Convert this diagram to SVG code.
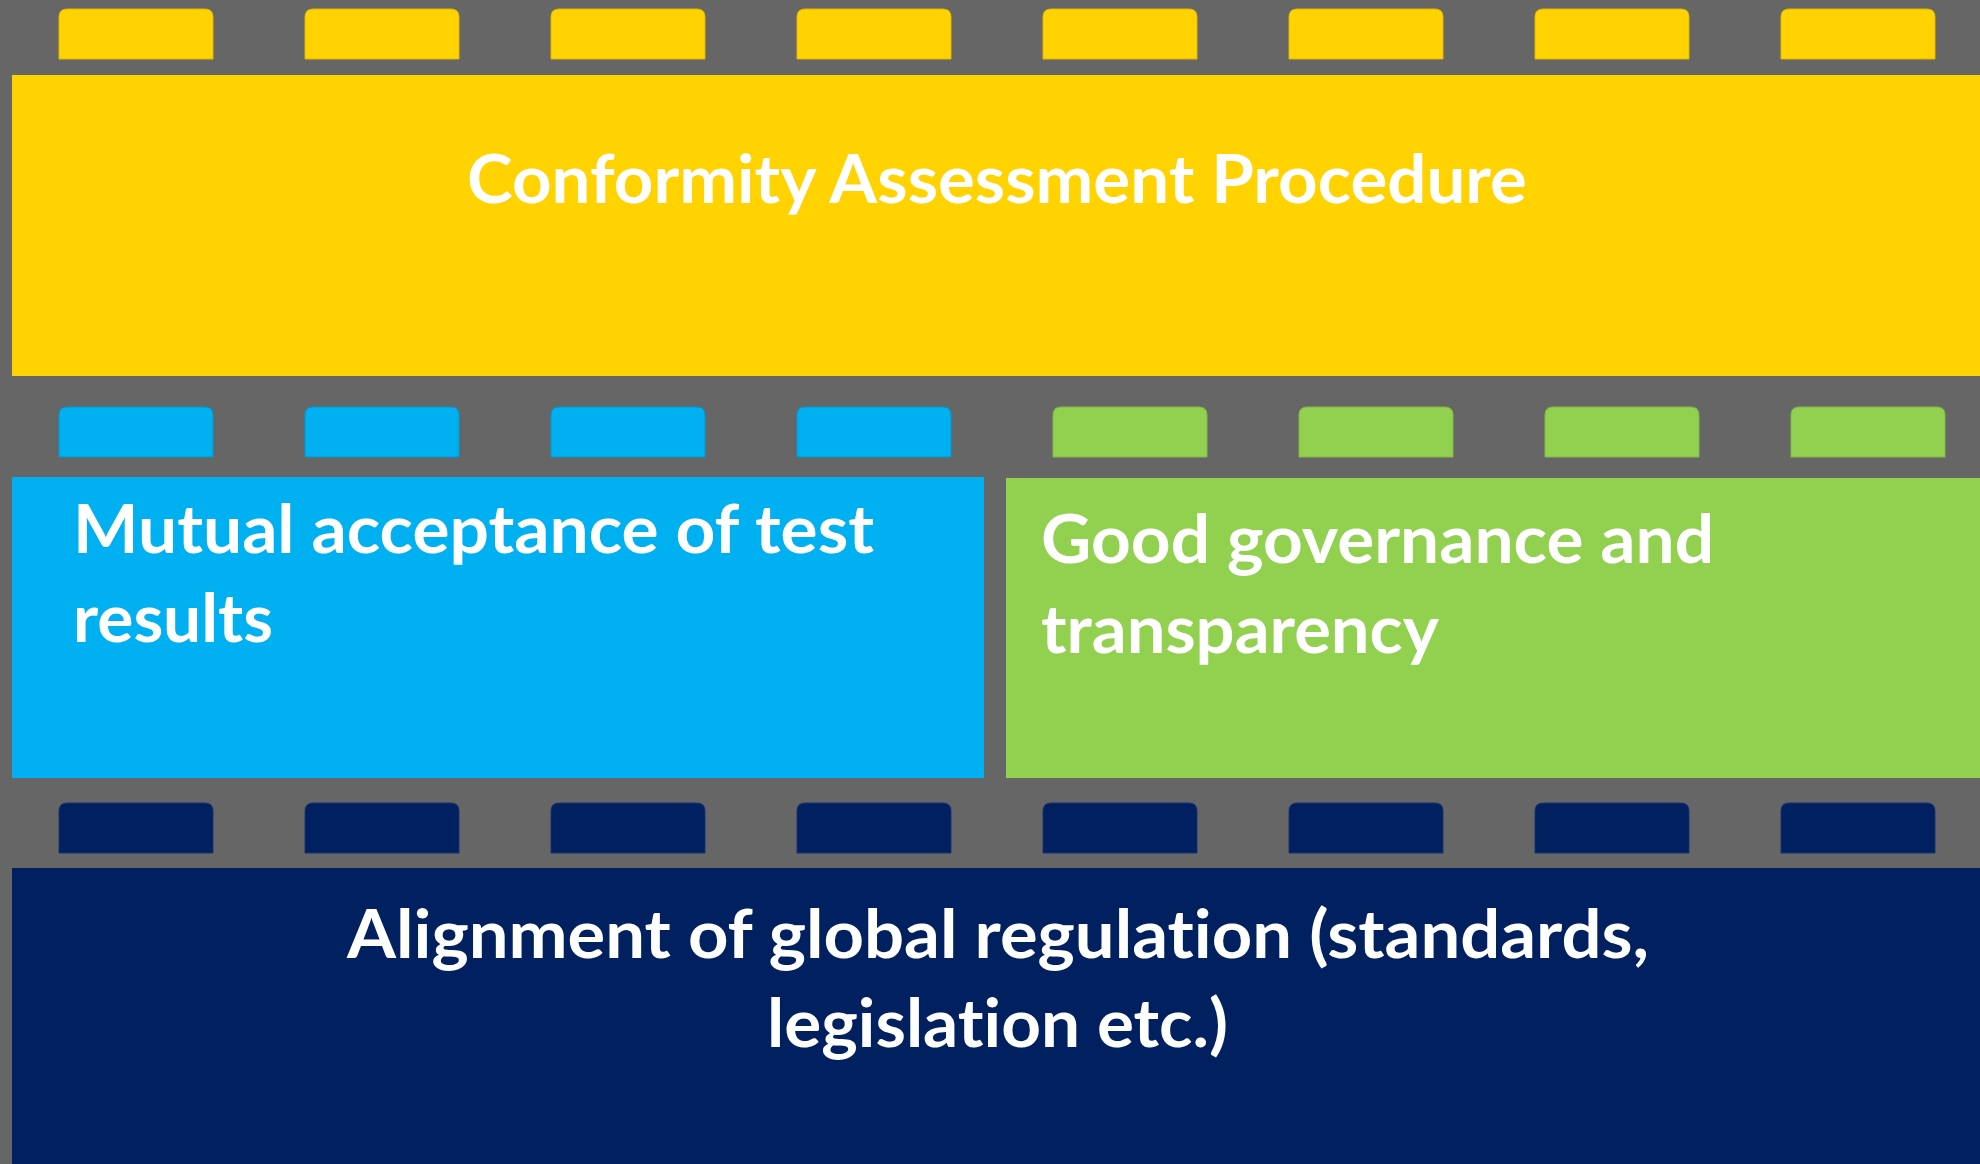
<svg xmlns="http://www.w3.org/2000/svg" width="1980" height="1164" viewBox="0 0 1980 1164">
  <style>
    .lbl { font-family: Lato, "Open Sans", "Liberation Sans", sans-serif; font-weight: 700; font-size: 66px; fill: #ffffff; font-variant-ligatures: none; font-feature-settings: "liga" 0, "clig" 0, "dlig" 0; }
    .yellow { fill: #FFD200; }
    .blue { fill: #00B0F0; }
    .green { fill: #92D050; }
    .navy { fill: #002060; }
    .tab-y { fill: #FFD200; stroke: #E0B800; stroke-width: 1; }
    .tab-b { fill: #00B0F0; stroke: #0098D0; stroke-width: 1; }
    .tab-g { fill: #92D050; stroke: #80B845; stroke-width: 1; }
    .tab-n { fill: #002060; stroke: #1A3370; stroke-width: 1; }
  </style>
  <defs>
    <path id="tab" d="M0,50 V8 Q0,0 8,0 H146 Q154,0 154,8 V50 Z"/>
  </defs>
  <rect x="0" y="0" width="1980" height="1164" fill="#666666"/>

  <g id="node-conformity">
    <g class="tab-y">
      <use href="#tab" x="59" y="9"/>
      <use href="#tab" x="305" y="9"/>
      <use href="#tab" x="551" y="9"/>
      <use href="#tab" x="797" y="9"/>
      <use href="#tab" x="1043" y="9"/>
      <use href="#tab" x="1289" y="9"/>
      <use href="#tab" x="1535" y="9"/>
      <use href="#tab" x="1781" y="9"/>
    </g>
    <rect class="yellow" x="12" y="75" width="1968" height="301"/>
    <text class="lbl" x="467" y="203" textLength="1060" lengthAdjust="spacingAndGlyphs">Conformity Assessment Procedure</text>
  </g>

  <g id="node-mutual">
    <g class="tab-b">
      <use href="#tab" x="59" y="407"/>
      <use href="#tab" x="305" y="407"/>
      <use href="#tab" x="551" y="407"/>
      <use href="#tab" x="797" y="407"/>
    </g>
    <rect class="blue" x="12" y="477" width="972" height="301"/>
    <text class="lbl" x="73" y="553" textLength="801" lengthAdjust="spacingAndGlyphs">Mutual acceptance of test</text>
    <text class="lbl" x="73" y="642" textLength="200" lengthAdjust="spacingAndGlyphs">results</text>
  </g>

  <g id="node-governance">
    <g class="tab-g">
      <use href="#tab" x="1053" y="407"/>
      <use href="#tab" x="1299" y="407"/>
      <use href="#tab" x="1545" y="407"/>
      <use href="#tab" x="1791" y="407"/>
    </g>
    <rect class="green" x="1006" y="478" width="974" height="300"/>
    <text class="lbl" x="1041" y="563" textLength="673" lengthAdjust="spacingAndGlyphs">Good governance and</text>
    <text class="lbl" x="1041" y="653" textLength="398" lengthAdjust="spacingAndGlyphs">transparency</text>
  </g>

  <g id="node-alignment">
    <g class="tab-n">
      <use href="#tab" x="59" y="803"/>
      <use href="#tab" x="305" y="803"/>
      <use href="#tab" x="551" y="803"/>
      <use href="#tab" x="797" y="803"/>
      <use href="#tab" x="1043" y="803"/>
      <use href="#tab" x="1289" y="803"/>
      <use href="#tab" x="1535" y="803"/>
      <use href="#tab" x="1781" y="803"/>
    </g>
    <rect class="navy" x="12" y="868" width="1968" height="296"/>
    <text class="lbl" x="347" y="958" textLength="1302" lengthAdjust="spacingAndGlyphs">Alignment of global regulation (standards,</text>
    <text class="lbl" x="767" y="1047" textLength="461" lengthAdjust="spacingAndGlyphs">legislation etc.)</text>
  </g>

  <g id="connectors"/>
</svg>
